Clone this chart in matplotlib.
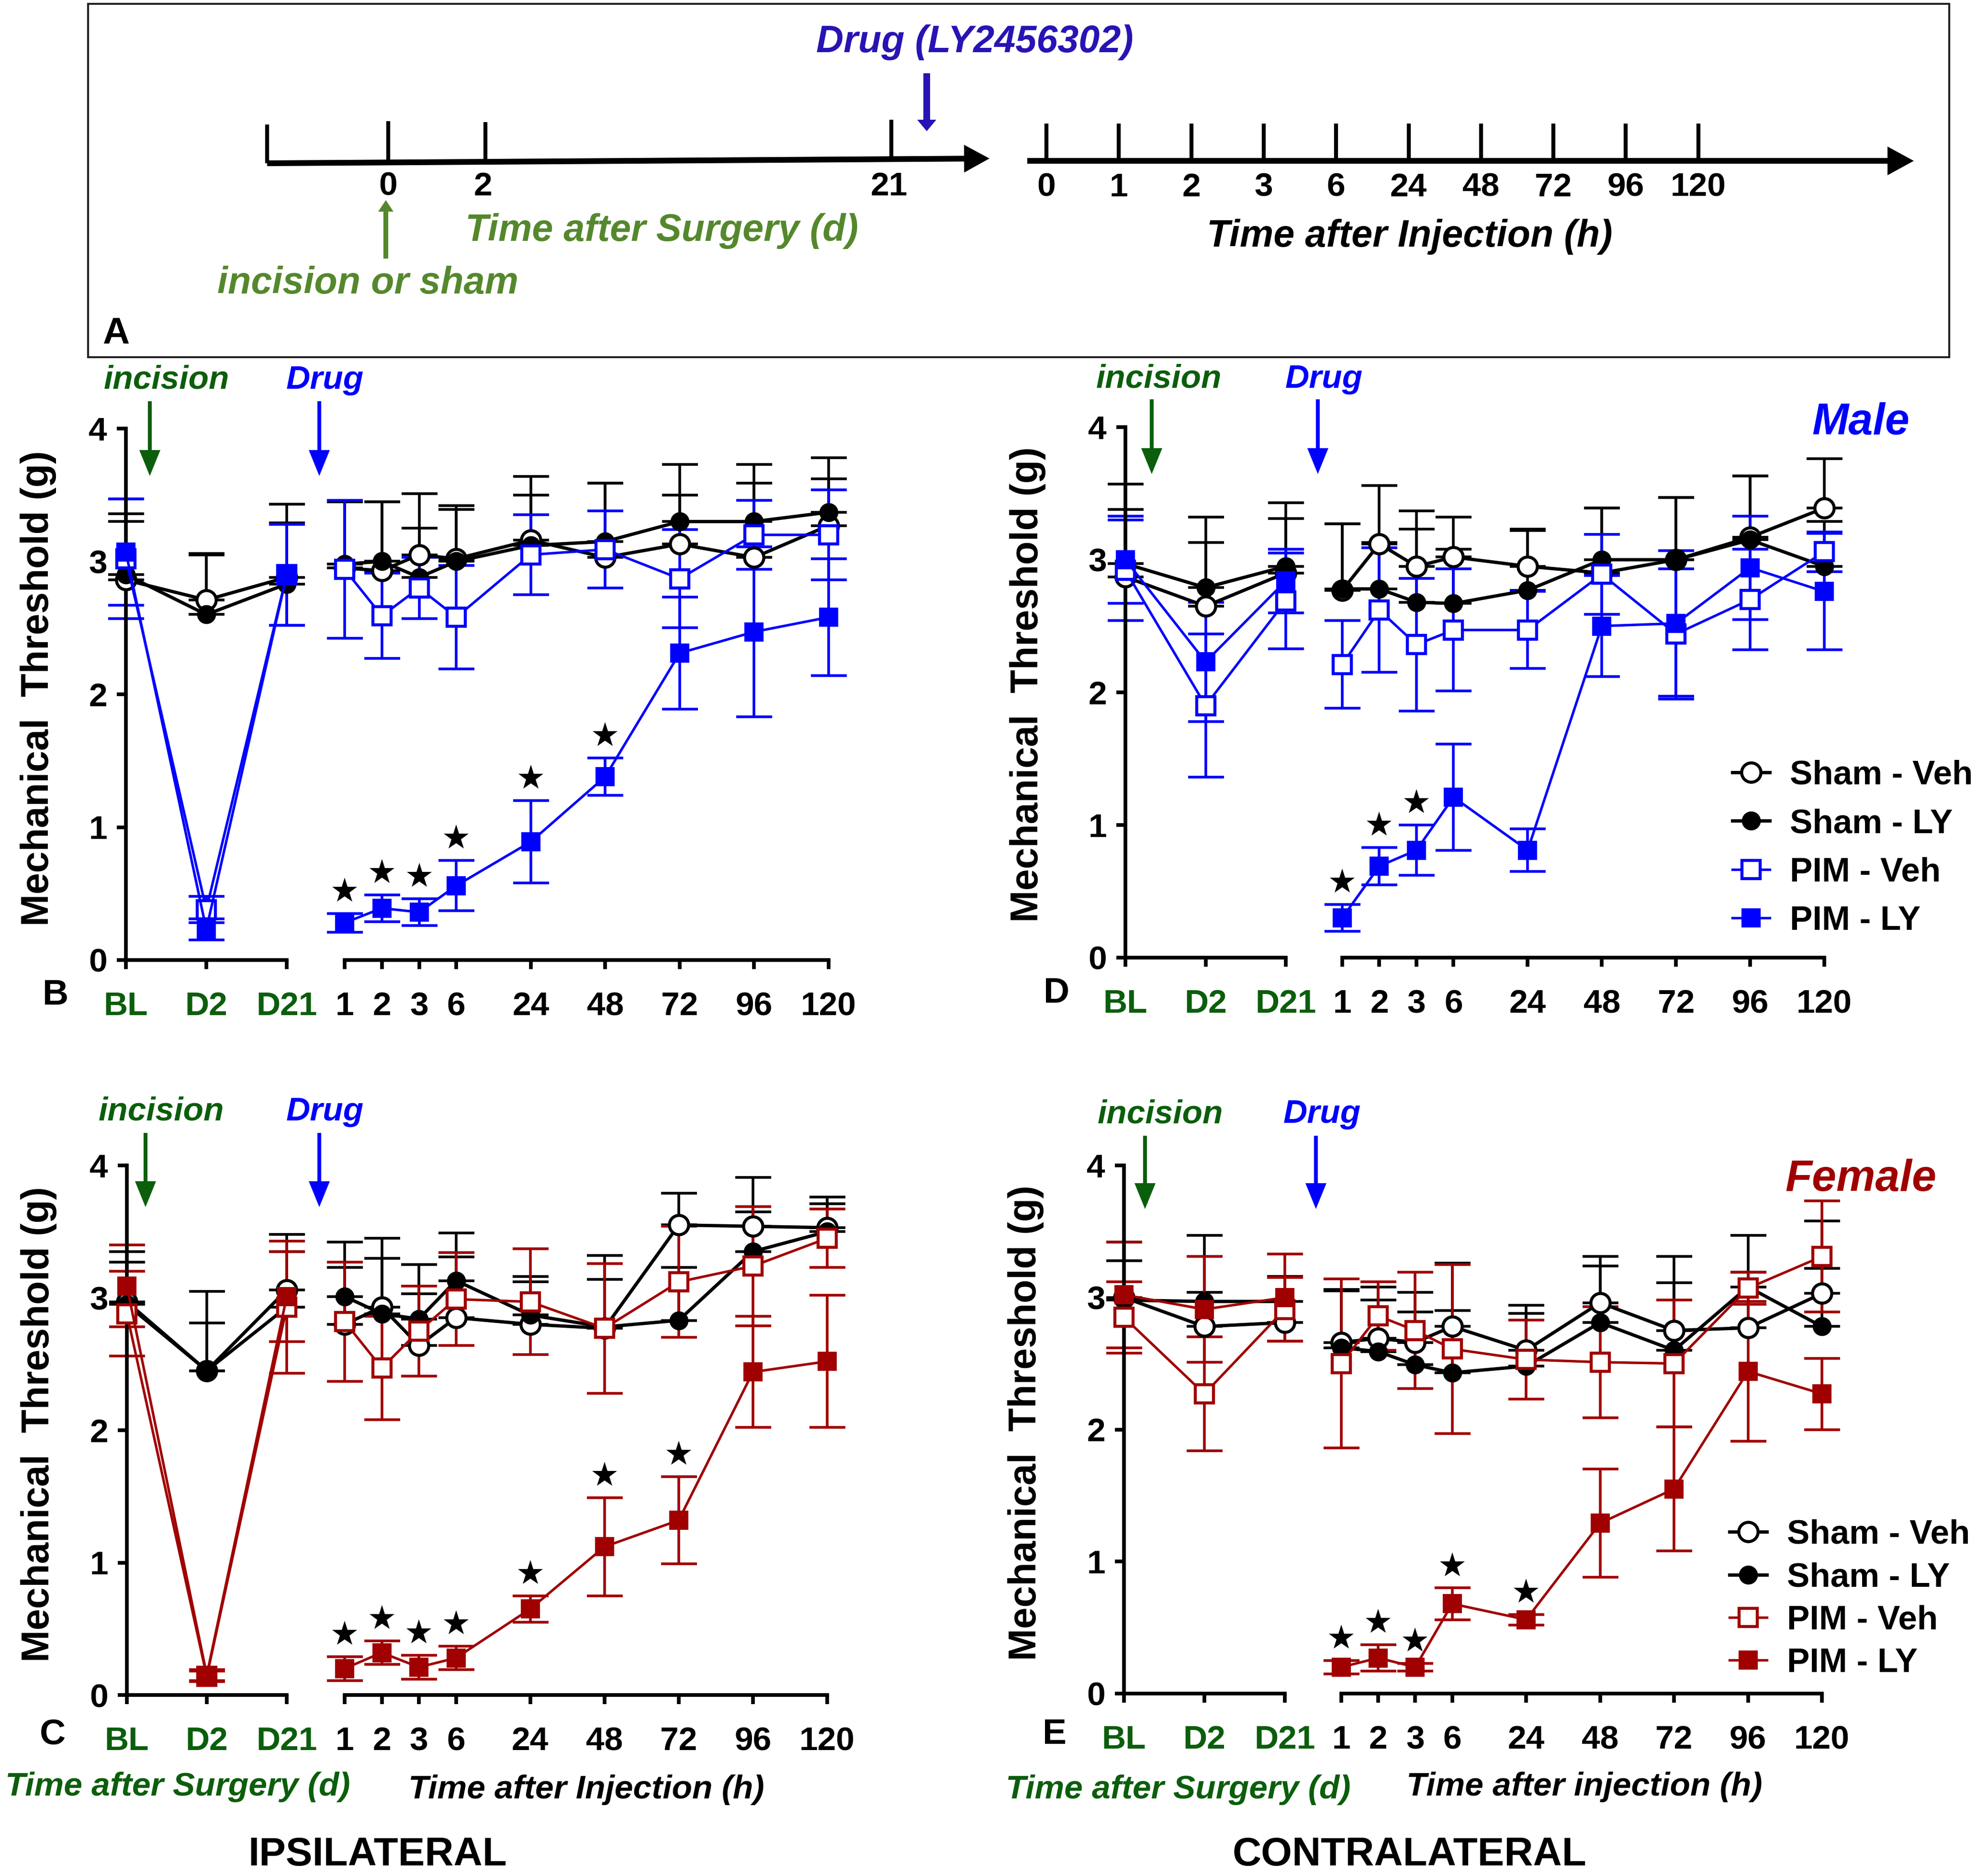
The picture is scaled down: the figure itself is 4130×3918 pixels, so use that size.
import matplotlib
matplotlib.use('Agg')
import matplotlib.pyplot as plt
from matplotlib.patches import FancyArrow, Rectangle
import numpy as np

W, H = 4130, 3918
DPI = 100

# ---------------- data ----------------
surgery_labels = ['BL', 'D2', 'D21']
hour_labels = ['1', '2', '3', '6', '24', '48', '72', '96', '120']
series_names = ['Sham - Veh', 'Sham - LY', 'PIM - Veh', 'PIM - LY']
timeline_days = ['0', '2', '21']
timeline_hours = ['0', '1', '2', '3', '6', '24', '48', '72', '96', '120']

# values: BL, D2, D21, then 1..120 h
# Panel B: ipsilateral, male
B_sham_veh = [2.86, 2.71, 2.88, 2.95, 2.93, 3.05, 3.02, 3.16, 3.03, 3.13, 3.03, 3.27]
B_sham_veh_err = [0.50, 0.35, 0.55, 0.50, 0.52, 0.46, 0.40, 0.48, 0.56, 0.37, 0.70, 0.35]
B_sham_ly = [2.90, 2.60, 2.83, 2.98, 3.00, 2.88, 3.00, 3.12, 3.15, 3.30, 3.30, 3.37]
B_sham_ly_err = [0.40, 0.45, 0.46, 0.47, 0.45, 0.37, 0.39, 0.38, 0.44, 0.43, 0.29, 0.41]
B_pim_veh = [3.02, 0.38, 2.90, 2.94, 2.59, 2.80, 2.58, 3.05, 3.09, 2.87, 3.20, 3.20]
B_pim_veh_err = [0.45, 0.10, 0.38, 0.52, 0.32, 0.23, 0.39, 0.30, 0.29, 0.37, 0.26, 0.34]
B_pim_ly = [3.07, 0.23, 2.90, 0.28, 0.39, 0.36, 0.56, 0.89, 1.38, 2.31, 2.47, 2.58]
B_pim_ly_err = [0.40, 0.08, 0.38, 0.07, 0.10, 0.10, 0.19, 0.31, 0.14, 0.42, 0.64, 0.44]
B_sig = [1, 1, 1, 1, 1, 1, 0, 0, 0]

# Panel D: contralateral, male
D_sham_veh = [2.87, 2.65, 2.90, 2.77, 3.12, 2.95, 3.02, 2.95, 2.90, 3.00, 3.17, 3.39]
D_sham_veh_err = [0.70, 0.48, 0.41, 0.50, 0.44, 0.42, 0.30, 0.28, 0.49, 0.47, 0.46, 0.37]
D_sham_ly = [2.97, 2.79, 2.95, 2.78, 2.78, 2.68, 2.67, 2.77, 3.00, 3.00, 3.15, 2.95]
D_sham_ly_err = [0.41, 0.53, 0.48, 0.49, 0.35, 0.55, 0.41, 0.45, 0.39, 0.47, 0.48, 0.34]
D_pim_veh = [2.92, 1.90, 2.69, 2.21, 2.62, 2.36, 2.47, 2.47, 2.89, 2.44, 2.70, 3.06]
D_pim_veh_err = [0.38, 0.54, 0.36, 0.33, 0.47, 0.50, 0.46, 0.29, 0.30, 0.49, 0.38, 0.15]
D_pim_ly = [3.00, 2.23, 2.84, 0.30, 0.69, 0.81, 1.21, 0.81, 2.50, 2.52, 2.94, 2.76]
D_pim_ly_err = [0.33, 0.45, 0.24, 0.10, 0.14, 0.19, 0.40, 0.16, 0.38, 0.55, 0.39, 0.44]
D_sig = [1, 1, 1, 0, 0, 0, 0, 0, 0]

# Panel C: ipsilateral, female
C_sham_veh = [2.97, 2.45, 3.06, 2.80, 2.93, 2.64, 2.85, 2.80, 2.77, 3.55, 3.54, 3.53]
C_sham_veh_err = [0.38, 0.60, 0.42, 0.62, 0.52, 0.61, 0.64, 0.36, 0.55, 0.24, 0.37, 0.23]
C_sham_ly = [2.95, 2.45, 2.93, 3.01, 2.88, 2.84, 3.13, 2.87, 2.78, 2.83, 3.35, 3.50]
C_sham_ly_err = [0.32, 0.36, 0.42, 0.22, 0.42, 0.19, 0.18, 0.25, 0.36, 0.40, 0.30, 0.21]
C_pim_veh = [2.88, 0.14, 2.93, 2.82, 2.47, 2.75, 2.99, 2.97, 2.77, 3.12, 3.24, 3.45]
C_pim_veh_err = [0.32, 0.04, 0.50, 0.45, 0.39, 0.34, 0.35, 0.40, 0.49, 0.42, 0.45, 0.22]
C_pim_ly = [3.09, 0.15, 3.01, 0.20, 0.32, 0.21, 0.28, 0.65, 1.12, 1.32, 2.44, 2.52]
C_pim_ly_err = [0.31, 0.04, 0.34, 0.09, 0.09, 0.09, 0.09, 0.10, 0.37, 0.33, 0.42, 0.50]
C_sig = [1, 1, 1, 1, 1, 1, 1, 0, 0]

# Panel E: contralateral, female
E_sham_veh = [3.00, 2.78, 2.81, 2.66, 2.69, 2.66, 2.78, 2.60, 2.96, 2.75, 2.77, 3.03]
E_sham_veh_err = [0.42, 0.69, 0.35, 0.40, 0.39, 0.38, 0.48, 0.34, 0.35, 0.56, 0.42, 0.55]
E_sham_ly = [2.98, 2.97, 2.97, 2.62, 2.59, 2.49, 2.43, 2.48, 2.81, 2.60, 3.08, 2.78]
E_sham_ly_err = [0.30, 0.07, 0.19, 0.43, 0.39, 0.40, 0.47, 0.40, 0.43, 0.51, 0.39, 0.44]
E_pim_veh = [2.85, 2.27, 2.91, 2.50, 2.86, 2.75, 2.61, 2.53, 2.51, 2.50, 3.07, 3.31]
E_pim_veh_err = [0.27, 0.43, 0.24, 0.64, 0.26, 0.44, 0.64, 0.30, 0.42, 0.48, 0.12, 0.42]
E_pim_ly = [3.02, 2.91, 3.00, 0.20, 0.27, 0.20, 0.68, 0.56, 1.29, 1.55, 2.44, 2.27]
E_pim_ly_err = [0.40, 0.40, 0.33, 0.05, 0.10, 0.03, 0.12, 0.04, 0.41, 0.47, 0.53, 0.27]
E_sig = [1, 1, 1, 1, 1, 0, 0, 0, 0]

# ---------------- style ----------------
plt.rcParams['font.family'] = ['Liberation Sans', 'DejaVu Sans']
plt.rcParams['font.weight'] = 'bold'

GREEN = '#0b5e0b'
OLIVE = '#55882d'
BLUE = '#0000ff'
RED = '#a00000'
DRUGBLUE = '#2814b4'

fig = plt.figure(figsize=(W / DPI, H / DPI), dpi=DPI)
fig.patch.set_facecolor('white')

# overlay in pixel coordinates for schematic / annotation items
ov = fig.add_axes([0, 0, 1, 1])
ov.set_xlim(0, W)
ov.set_ylim(H, 0)
ov.axis('off')


def txt(x, y, s, size, color='black', style='normal', ha='center', rotation=0):
    ov.text(x, y, s, fontsize=size, color=color, fontstyle=style,
            fontweight='bold', ha=ha, va='center', rotation=rotation)


def arrow(x0, y0, x1, y1, color, width, hw, hl):
    ov.add_patch(FancyArrow(x0, y0, x1 - x0, y1 - y0, width=width,
                            head_width=hw, head_length=hl,
                            length_includes_head=True, color=color, lw=0))


# ---------------- panel A ----------------
ov.add_patch(Rectangle((184, 8), 4072 - 184, 746 - 8, fill=False,
                       edgecolor='#222222', lw=3))
# surgery timeline (slightly slanted, as in original)
arrow(558, 341, 2067, 331, 'black', 12, 58, 53)
day_tick_x = [558, 811, 1014, 1862]
day_tick_top = [260, 253, 255, 250]
for xt, yt in zip(day_tick_x, day_tick_top):
    ybase = 341 + (331 - 341) * (xt - 558) / (2067 - 558)
    ov.plot([xt, xt], [ybase, yt], color='black', lw=6, solid_capstyle='butt')
for lab, xt in zip(timeline_days, [811, 1009, 1857]):
    txt(xt, 390, lab, 50)
# injection timeline
arrow(2146, 336, 3998, 336, 'black', 12, 60, 55)
hour_tick_x = [2186 + i * 151.3 for i in range(len(timeline_hours))]
for lab, xt in zip(timeline_hours, hour_tick_x):
    ov.plot([xt, xt], [336, 258], color='black', lw=6, solid_capstyle='butt')
    txt(xt, 392, lab, 50)
arrow(1936, 153, 1936, 274, DRUGBLUE, 14, 40, 24)
txt(2036, 88, 'Drug (LY2456302)', 57, DRUGBLUE, 'italic')
arrow(806, 540, 806, 418, OLIVE, 10, 32, 24)
txt(1383, 482, 'Time after Surgery (d)', 57, OLIVE, 'italic')
txt(769, 592, 'incision or sham', 57, OLIVE, 'italic')
txt(2945, 495, 'Time after Injection (h)', 57, 'black', 'italic')
txt(242, 697, 'A', 56)


# ---------------- data panels ----------------
def hour_slots(n):
    slots, s = [], 0
    for i in range(n):
        slots.append(s)
        s += 1 if i < 3 else 2
    return slots


def px_axes(x0, x1, y0, y1):
    return fig.add_axes([x0 / W, 1 - y1 / H, (x1 - x0) / W, (y1 - y0) / H])


def draw_panel(lx, rx, yy, series, sig, color, legend_at=None):
    axL = px_axes(lx[0], lx[1], yy[0], yy[1])
    axR = px_axes(rx[0], rx[1], yy[0], yy[1])
    xL = list(range(len(surgery_labels)))
    xR = hour_slots(len(hour_labels))
    styles = [('o', 'white', 'black', True, 5.0, 29),
              ('o', 'black', 'black', True, 5.0, 27),
              ('s', 'white', color, False, 3.8, 27),
              ('s', color, color, False, 3.8, 27)]
    handles = []
    for ax, xs, sl in ((axL, xL, slice(0, 3)), (axR, xR, slice(3, 12))):
        for (vals, errs), (mk, fc, ec, upper_only, lw, ms) in zip(series, styles):
            v = np.asarray(vals)[sl]
            e = np.asarray(errs)[sl]
            lower = np.zeros_like(e) if upper_only else e
            cont = ax.errorbar(xs, v, yerr=[lower, e], fmt='none', ecolor=ec,
                               elinewidth=4.0, capsize=27, capthick=4.0, zorder=2)
            for art in list(cont.lines[1]) + list(cont.lines[2]):
                art.set_clip_on(False)
            h, = ax.plot(xs, v, marker=mk, mfc=fc, mec=ec, color=ec, lw=lw,
                         ms=ms, mew=4.6 if fc == 'white' else 1.5,
                         zorder=3, clip_on=False)
            if ax is axR:
                handles.append(h)
    # significance stars above PIM-LY error bars
    pl, pl_e = series[3]
    pv = np.asarray(pl)[3:] + np.asarray(pl_e)[3:] + 0.17
    sx = [x for x, s in zip(xR, sig) if s]
    sy = [y for y, s in zip(pv, sig) if s]
    axR.plot(sx, sy, ls='none', marker='*', ms=40, color='black', mew=0,
             zorder=4, clip_on=False)

    for ax in (axL, axR):
        ax.set_ylim(0, 4)
        ax.set_facecolor('none')
        for sp in ('top', 'right'):
            ax.spines[sp].set_visible(False)
        ax.spines['bottom'].set_linewidth(5.5)
        ax.spines['left'].set_linewidth(5.5)
        ax.tick_params(axis='both', direction='out', length=14, width=5.5,
                       labelsize=50)
        ax.tick_params(axis='x', pad=33)
    axL.set_xlim(0, 2)
    axL.set_xticks(xL)
    axL.set_xticklabels(surgery_labels)
    axL.tick_params(axis='x', labelcolor=GREEN)
    axL.set_yticks([0, 1, 2, 3, 4])
    axL.tick_params(axis='y', pad=14)
    axR.set_xlim(0, xR[-1])
    axR.set_xticks(xR)
    axR.set_xticklabels(hour_labels)
    axR.spines['left'].set_visible(False)
    axR.tick_params(axis='y', left=False, labelleft=False)
    if legend_at is not None:
        (lgx, lgy, spacing) = legend_at
        axR.legend(handles, series_names, loc='center left',
                   bbox_to_anchor=(lgx / W, 1 - lgy / H),
                   bbox_transform=fig.transFigure, frameon=False,
                   fontsize=51, handlelength=1.1, handletextpad=0.6,
                   labelspacing=spacing, borderpad=0, borderaxespad=0)
    return axL, axR


draw_panel((263, 599), (720, 1731), (895, 2005),
           [(B_sham_veh, B_sham_veh_err), (B_sham_ly, B_sham_ly_err),
            (B_pim_veh, B_pim_veh_err), (B_pim_ly, B_pim_ly_err)], B_sig, BLUE)
draw_panel((2351, 2686), (2804, 3811), (892, 2000),
           [(D_sham_veh, D_sham_veh_err), (D_sham_ly, D_sham_ly_err),
            (D_pim_veh, D_pim_veh_err), (D_pim_ly, D_pim_ly_err)], D_sig, BLUE,
           legend_at=(3619, 1772, 0.5))
draw_panel((265, 599), (720, 1728), (2434, 3540),
           [(C_sham_veh, C_sham_veh_err), (C_sham_ly, C_sham_ly_err),
            (C_pim_veh, C_pim_veh_err), (C_pim_ly, C_pim_ly_err)], C_sig, RED)
draw_panel((2348, 2684), (2802, 3806), (2434, 3537),
           [(E_sham_veh, E_sham_veh_err), (E_sham_ly, E_sham_ly_err),
            (E_pim_veh, E_pim_veh_err), (E_pim_ly, E_pim_ly_err)], E_sig, RED,
           legend_at=(3613, 3340, 0.33))

# ---------------- annotations ----------------
YL = 'Mechanical  Threshold (g)'
txt(80, 1438, YL, 58, rotation=90)
txt(2147, 1430, YL, 58, rotation=90)
txt(81, 2975, YL, 58, rotation=90)
txt(2143, 2972, YL, 58, rotation=90)

for (ix, dx, ty, ay0, ay1, gx, bx) in [
        (348, 679, 794, 838, 994, 313, 667),
        (2421, 2766, 792, 834, 990, 2406, 2753),
        (337, 679, 2322, 2366, 2521, 304, 667),
        (2424, 2762, 2327, 2372, 2525, 2392, 2749)]:
    txt(ix, ty, 'incision', 50, GREEN, 'italic')
    txt(dx, ty, 'Drug', 50, BLUE, 'italic')
    arrow(gx, ay0, gx, ay1, GREEN, 8, 44, 54)
    arrow(bx, ay0, bx, ay1, BLUE, 8, 44, 54)

txt(3887, 883, 'Male', 66, BLUE, 'italic')
txt(3887, 2463, 'Female', 66, RED, 'italic')

txt(116, 2079, 'B', 54)
txt(2207, 2075, 'D', 54)
txt(110, 3623, 'C', 54)
txt(2203, 3623, 'E', 54)

txt(371, 3732, 'Time after Surgery (d)', 50, GREEN, 'italic')
txt(1225, 3738, 'Time after Injection (h)', 50, 'black', 'italic')
txt(2461, 3738, 'Time after Surgery (d)', 50, GREEN, 'italic')
txt(3310, 3732, 'Time after injection (h)', 50, 'black', 'italic')

txt(789, 3874, 'IPSILATERAL', 60)
txt(2945, 3874, 'CONTRALATERAL', 60)

fig.savefig('out.png', dpi=DPI, facecolor='white')
